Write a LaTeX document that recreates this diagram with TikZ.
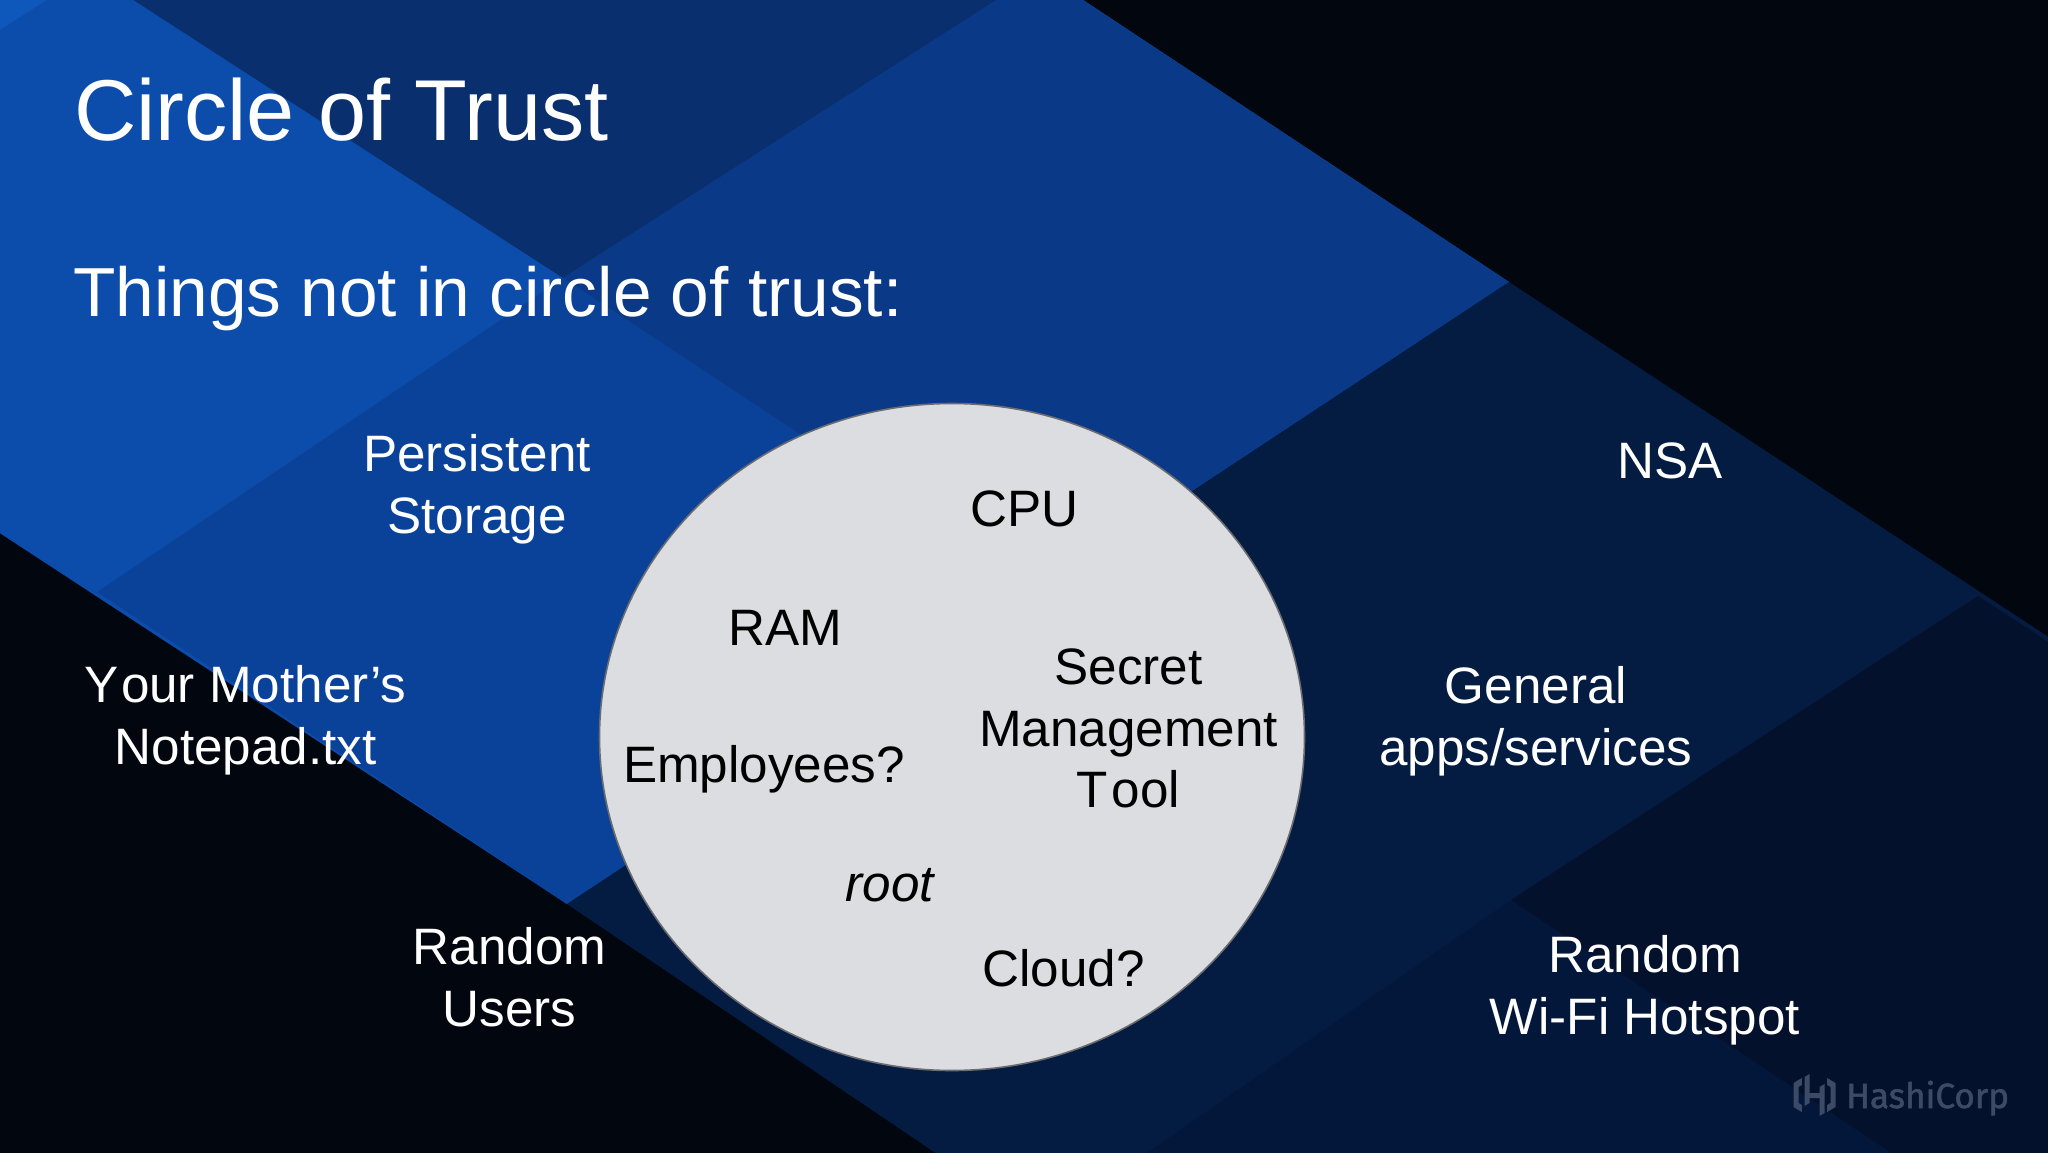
\documentclass[tikz,border=0pt]{standalone}
\usetikzlibrary{shapes.geometric}
\usepackage{fontspec}
\setmainfont{Liberation Sans}
\newfontfamily\hashifont[FakeBold=1.5]{Fira Sans}
\definecolor{blackbg}{HTML}{01060F}
\definecolor{bright}{HTML}{0C4DAB}
\definecolor{corner}{HTML}{0E58BC}
\definecolor{topdark}{HTML}{0A2F6E}
\definecolor{midblue}{HTML}{0A4299}
\definecolor{rightblue}{HTML}{0A3988}
\definecolor{navy}{HTML}{041B42}
\definecolor{navylow}{HTML}{03173B}
\definecolor{darkdia}{HTML}{03112C}
\definecolor{circfill}{HTML}{DCDDE0}
\definecolor{circline}{HTML}{6A6C70}
\definecolor{logoc}{HTML}{3D4A66}
\tikzset{
  x=1pt,y=-1pt,
  lightlabel/.style={anchor=base,align=center,inner sep=0pt,text=white,font=\fontsize{51.2}{61.5}\selectfont},
  darklabel/.style={anchor=base,align=center,inner sep=0pt,text=black,font=\fontsize{51.2}{61.5}\selectfont},
  logopart/.style={fill=logoc,draw=none}
}
\begin{document}
\begin{tikzpicture}
\useasboundingbox (0,0) rectangle (2048,1152);
% background bands
\fill[blackbg] (-8,-8) rectangle (2056,1160);
\fill[bright] (-8,-8) -- (1071,-8) -- (1509,282) -- (567,904) -- (-8,528) -- cycle;
\fill[corner] (-8,-8) -- (59,-8) -- (-8,35) -- cycle;
\fill[topdark] (121,-8) -- (1009,-8) -- (563,278) -- cycle;
\fill[rightblue] (1009,-8) -- (1071,-8) -- (1509,282) -- (1039,592) -- (563,278) -- cycle;
\fill[midblue] (563,278) -- (1039,592) -- (567,904) -- (97,592) -- cycle;
\fill[navy] (1509,282) -- (2056,642) -- (2056,1160) -- (946,1160) -- (567,904) -- cycle;
\fill[navylow] (1511,900) -- (1902,1160) -- (1137,1160) -- cycle;
\fill[darkdia] (1978,596) -- (2056,647) -- (2056,1160) -- (1902,1160) -- (1511,900) -- cycle;
% circle
\node[ellipse,minimum width=705pt,minimum height=667pt,inner sep=0pt,fill=circfill,draw=circline,line width=1.6pt] (trust) at (952,737) {};
% title
\node[anchor=base west,inner sep=0pt,text=white,font=\fontsize{86.4}{100}\selectfont] (title) at (74,140) {Circle of Trust};
\node[anchor=base west,inner sep=0pt,text=white,font=\fontsize{69.4}{80}\selectfont] (subtitle) at (73,316) {Things not in circle of trust:};
% outside
\node[lightlabel] (storage) at (477,533) {Persistent\\Storage};
\node[lightlabel] (notepad) at (245.5,764) {Y\kern2.5pt our Mother’s\\Notepad.txt};
\node[lightlabel] (users) at (509.5,1026) {Random\\Users};
\node[lightlabel] (nsa) at (1670,478) {NSA};
\node[lightlabel] (apps) at (1536,765) {General\\apps/services};
\node[lightlabel] (wifi) at (1645,1034) {Random\\Wi-Fi Hotspot};
% inside
\node[darklabel] (cpu) at (1024.5,526) {CPU};
\node[darklabel] (ram) at (785.5,645) {RAM};
\node[darklabel] (emp) at (764,782) {Employees?};
\node[darklabel,font=\fontsize{51.2}{61.5}\selectfont\itshape] (root) at (890,901) {root};
\node[darklabel] (cloud) at (1063.5,986) {Cloud?};
\node[darklabel] (tool) at (1128.5,807.5) {Secret\\Management\\T\kern4pt ool};
% logo
\begin{scope}[shift={(1814.5,1095)}]
\fill[logopart] (-21,-12) -- (-12.7,-17) -- (-12.7,-10) -- (-16,-8) -- (-16,8) -- (-12.7,10) -- (-12.7,17) -- (-21,12) -- cycle;
\fill[logopart] (-10,-18) -- (-5,-21) -- (-5,-2) -- (5,-2) -- (5,-8) -- (10,-11) -- (10,18) -- (5,21) -- (5,3) -- (-5,3) -- (-5,8) -- (-10,11) -- cycle;
\fill[logopart] (21,-12) -- (12.7,-17) -- (12.7,-10) -- (16,-8) -- (16,8) -- (12.7,10) -- (12.7,17) -- (21,12) -- cycle;
\end{scope}
\node[anchor=base west,inner sep=0pt,text=logoc,font=\hashifont\fontsize{35}{40}\selectfont] (brand) at (1846,1108) {HashiCorp};
\end{tikzpicture}
\end{document}
